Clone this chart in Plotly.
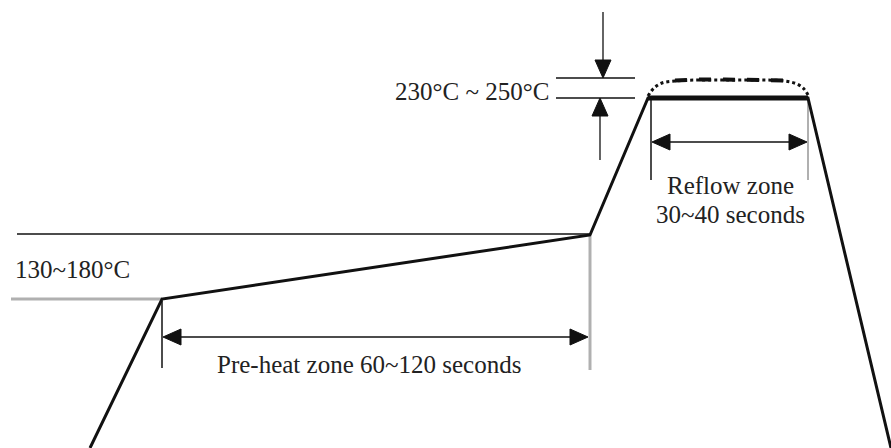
import plotly.graph_objects as go

# Diagram units: x = time axis (arbitrary), y = temperature axis (arbitrary, up)
W, H = 891, 448

# Reflow temperature profile key points
profile_x = [90, 162, 590, 648, 808, 891]
profile_y = [0, 149, 213, 350, 350, 0]

# Peak (overshoot) dotted curve above the reflow zone
peak_x = [648, 654, 662, 675, 695, 725, 760, 785, 797, 804, 808]
peak_y = [352, 360, 365, 367, 368, 368, 368, 367, 364, 359, 353]

# Reference levels
preheat_top_y = 214      # upper pre-heat temperature line
preheat_low_y = 149      # lower pre-heat temperature line (gray)
peak_low_y = 350         # 230 C line
peak_high_y = 370        # 250 C line

# Labels
label_peak = "230°C ~ 250°C"
label_preheat_temp = "130~180°C"
label_preheat_zone = "Pre-heat zone 60~120 seconds"
label_reflow_1 = "Reflow zone"
label_reflow_2 = "30~40 seconds"

BLACK = "#111111"
GRAY = "#b0b0b0"
TXT = "#222222"
FONT = "Liberation Serif, Times New Roman, serif"

fig = go.Figure()
shapes = []

def line(x0, y0, x1, y1, color=BLACK, width=1.5):
    shapes.append(dict(type="line", x0=x0, y0=y0, x1=x1, y1=y1,
                       line=dict(color=color, width=width), layer="below"))

def head(tx, ty, dx, dy, length=18, half=8):
    # filled triangle arrowhead with tip at (tx, ty), pointing in direction (dx, dy)
    bx, by = tx - dx * length, ty - dy * length
    px, py = -dy * half, dx * half
    path = f"M {tx},{ty} L {bx+px},{by+py} L {bx-px},{by-py} Z"
    shapes.append(dict(type="path", path=path, fillcolor=BLACK,
                       line=dict(color=BLACK, width=1)))

# reference lines
line(17, preheat_top_y, profile_x[2], preheat_top_y, BLACK, 1.5)
line(11, preheat_low_y, profile_x[1], preheat_low_y, GRAY, 3)
line(556, peak_high_y, 635, peak_high_y, BLACK, 1.5)
line(556, peak_low_y, 635, peak_low_y, BLACK, 1.5)

# peak level arrows
line(603, 436, 603, peak_high_y + 2, BLACK, 1.3)
head(603, peak_high_y, 0, -1)
line(600, 288, 600, peak_low_y - 2, BLACK, 1.3)
head(600, peak_low_y, 0, 1)

# pre-heat zone dimension
pre_y = 111
line(profile_x[1], preheat_low_y - 2, profile_x[1], 80, BLACK, 1.5)
line(profile_x[2], profile_y[2] - 1, profile_x[2], 78, GRAY, 3)
line(profile_x[1] + 4, pre_y, profile_x[2] - 4, pre_y, BLACK, 1.3)
head(profile_x[1] + 1, pre_y, -1, 0)
head(profile_x[2] - 2, pre_y, 1, 0)

# reflow zone dimension
ref_y = 306
line(651, profile_y[3], 651, 268, BLACK, 1.5)
line(808, profile_y[4], 808, 268, GRAY, 2)
line(655, ref_y, 804, ref_y, BLACK, 1.3)
head(652, ref_y, -1, 0)
head(807, ref_y, 1, 0)

# main profile
fig.add_trace(go.Scatter(x=profile_x, y=profile_y, mode="lines",
                         line=dict(color=BLACK, width=3), hoverinfo="skip"))
# thick reflow segment
fig.add_trace(go.Scatter(x=profile_x[3:5], y=profile_y[3:5], mode="lines",
                         line=dict(color=BLACK, width=5), hoverinfo="skip"))
# peak dotted curve
fig.add_trace(go.Scatter(x=peak_x, y=peak_y, mode="lines",
                         line=dict(color=BLACK, width=3, dash="dot", shape="spline"),
                         hoverinfo="skip"))
fig.add_trace(go.Scatter(x=peak_x[3:8], y=[v + 0.5 for v in peak_y[3:8]], mode="lines",
                         line=dict(color=BLACK, width=4, dash="dash"),
                         hoverinfo="skip"))

ann = [
    dict(x=551, y=357, text=label_peak, xanchor="right", yanchor="middle"),
    dict(x=13, y=179, text=label_preheat_temp, xanchor="left", yanchor="middle"),
    dict(x=369, y=84, text=label_preheat_zone, xanchor="center", yanchor="middle"),
    dict(x=730, y=263, text=label_reflow_1, xanchor="center", yanchor="middle"),
    dict(x=730, y=234, text=label_reflow_2, xanchor="center", yanchor="middle"),
]
for a in ann:
    a.update(showarrow=False, font=dict(family=FONT, size=25, color=TXT))

fig.update_layout(
    width=W, height=H, margin=dict(l=0, r=0, t=0, b=0), autosize=False,
    paper_bgcolor="white", plot_bgcolor="white", showlegend=False,
    shapes=shapes, annotations=ann,
    xaxis=dict(range=[0, W], visible=False, fixedrange=True),
    yaxis=dict(range=[0, H], visible=False, fixedrange=True),
)

fig.write_html("out.html", config={"displayModeBar": False},
               post_script="document.body.style.margin='0';document.body.style.overflow='hidden';")
